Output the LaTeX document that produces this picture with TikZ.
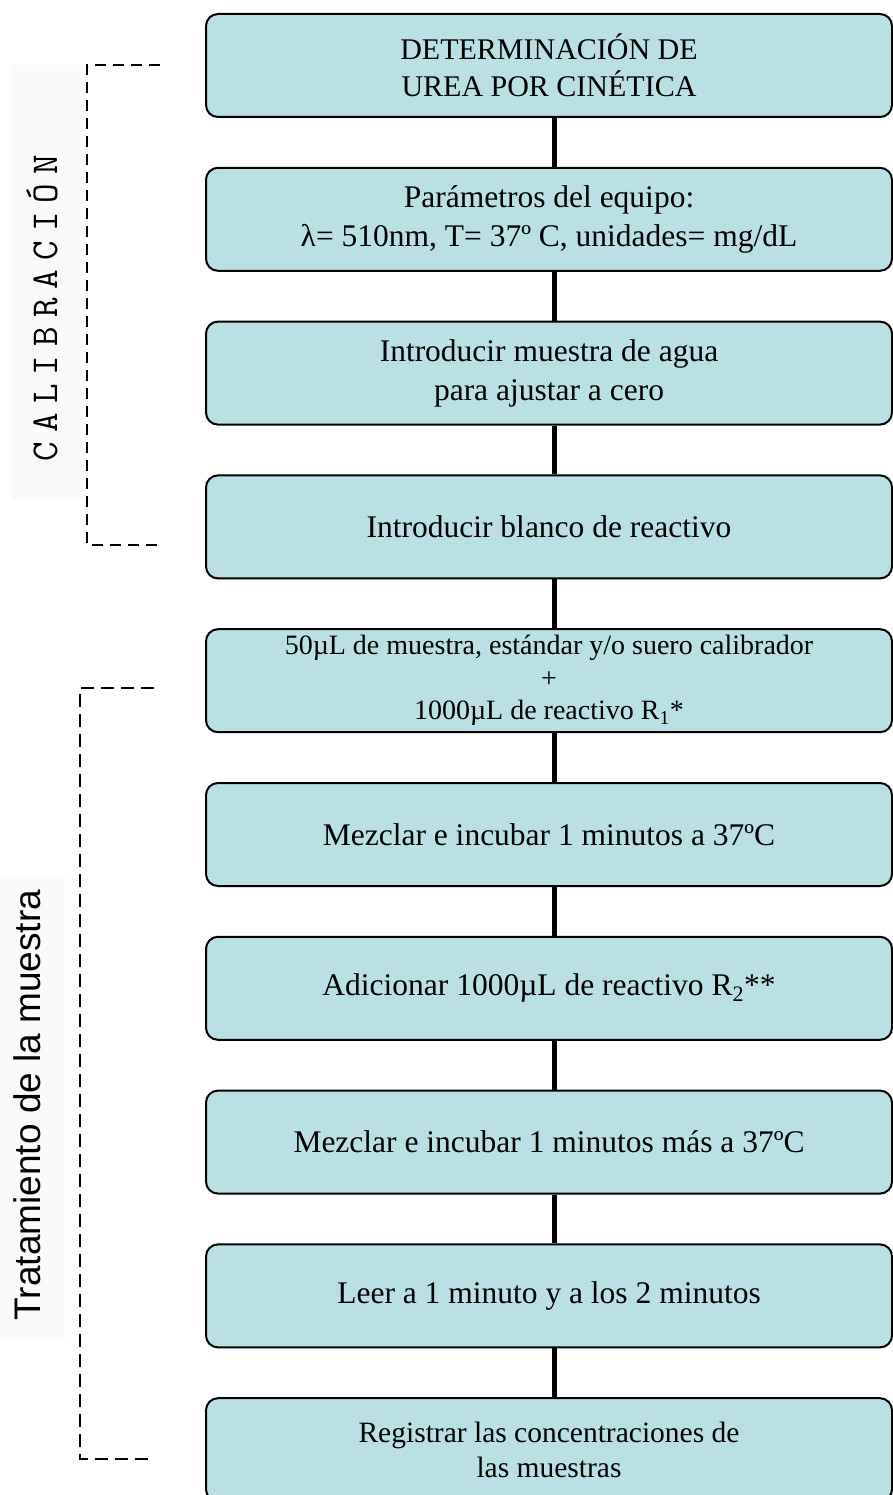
\documentclass[tikz,border=0pt]{standalone}
\usepackage{fontspec}
\setmainfont{Liberation Serif}
\newfontfamily\calfont[LetterSpace=24]{Latin Modern Mono}
\newfontfamily\labelsans{Liberation Sans}
\definecolor{stepfill}{RGB}{187,224,227}
\definecolor{sidebg}{RGB}{250,250,250}

\begin{document}
\begin{tikzpicture}[x=1pt,y=-1pt,
  stepbox/.style={draw=black, line width=2pt, fill=stepfill, rounded corners=12pt,
    minimum width=686pt, minimum height=103pt, inner sep=0pt, align=center,
    font=\fontsize{31.5}{39}\selectfont},
  link/.style={line width=5pt, draw=black},
  bracket/.style={draw=black, line width=1.6pt, dash pattern=on 11pt off 7pt}
]
\useasboundingbox (0,0) rectangle (893,1495);

% faint panels behind the side labels
\fill[sidebg] (11,65) rectangle (84,500);
\fill[sidebg] (0,877) rectangle (65,1340);

% process steps
\node[stepbox, font=\fontsize{30}{37}\selectfont] (s1) at (549,65.5)
  {DETERMINACIÓN DE\\UREA POR CINÉTICA};
\node[stepbox] (s2) at (549,219.3)
  {Parámetros del equipo:\\λ= 510nm, T= 37º C, unidades= mg/dL};
\node[stepbox] (s3) at (549,373.1)
  {Introducir muestra de agua\\para ajustar a cero};
\node[stepbox] (s4) at (549,526.9)
  {Introducir blanco de reactivo};
\node[stepbox, font=\fontsize{28}{32.5}\selectfont] (s5) at (549,680.7)
  {50µL de muestra, estándar y/o suero calibrador\\+\\1000µL de reactivo R\textsubscript{1}*};
\node[stepbox] (s6) at (549,834.5)
  {Mezclar e incubar 1 minutos a 37ºC};
\node[stepbox] (s7) at (549,988.3)
  {Adicionar 1000µL de reactivo R\textsubscript{2}**};
\node[stepbox] (s8) at (549,1142.1)
  {Mezclar e incubar 1 minutos más a 37ºC};
\node[stepbox] (s9) at (549,1295.9)
  {Leer a 1 minuto y a los 2 minutos};
\node[stepbox, font=\fontsize{29.5}{35}\selectfont] (s10) at (549,1449.7)
  {Registrar las concentraciones de\\las muestras};

% vertical links between steps
\foreach \a/\b in {s1/s2,s2/s3,s3/s4,s4/s5,s5/s6,s6/s7,s7/s8,s8/s9,s9/s10}
  \draw[link] ([xshift=5pt]\a.south) -- ([xshift=5pt]\b.north);

% side labels
\node[rotate=90, inner sep=0pt] (cal) at (42,308)
  {\calfont\fontsize{38}{42}\selectfont CALIBRACIÓN};
\node[rotate=90, inner sep=0pt] (trat) at (27,1105)
  {\labelsans\fontsize{37}{42}\selectfont Tratamiento de la muestra};

% dashed brackets
\draw[bracket] (160,65) -- (87,65) -- (87,545) -- (160,545);
\draw[bracket, line width=1.8pt, dash pattern=on 13pt off 7pt]
  (154,688) -- (80,688) -- (80,1459) -- (152,1459);
\end{tikzpicture}
\end{document}
